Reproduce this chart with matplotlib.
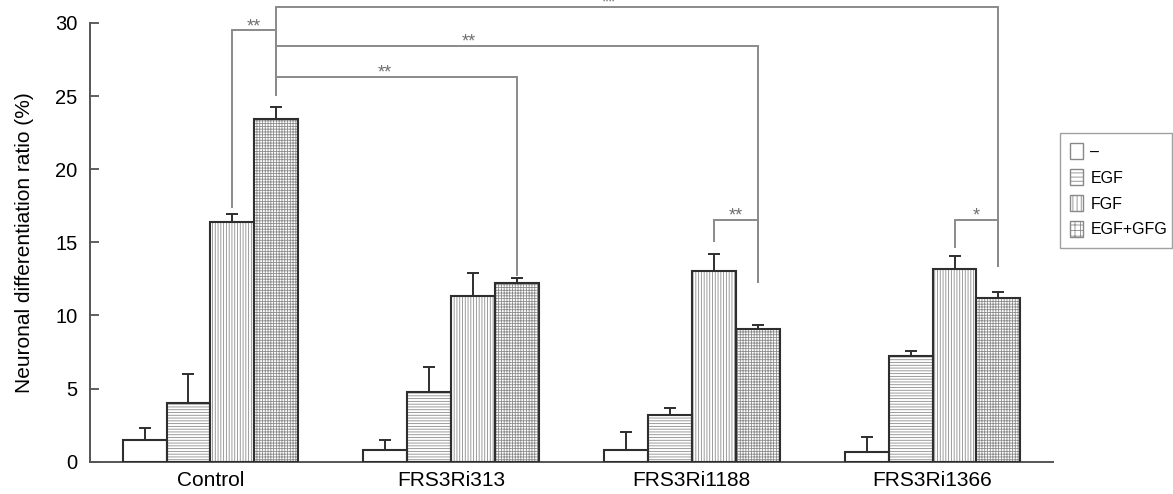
import matplotlib
matplotlib.use("Agg")
import matplotlib.pyplot as plt
from matplotlib.patches import Patch
import numpy as np

# ---------------- data ----------------
categories = ["Control", "FRS3Ri313", "FRS3Ri1188", "FRS3Ri1366"]
series_labels = ["\u2013", "EGF", "FGF", "EGF+GFG"]

vals_none = [1.5, 0.8, 0.8, 0.65]
vals_egf = [4.0, 4.75, 3.2, 7.2]
vals_fgf = [16.4, 11.3, 13.05, 13.2]
vals_both = [23.45, 12.2, 9.05, 11.2]

err_none = [0.8, 0.7, 1.2, 1.05]
err_egf = [2.0, 1.7, 0.45, 0.35]
err_fgf = [0.55, 1.6, 1.15, 0.9]
err_both = [0.8, 0.35, 0.3, 0.4]

yticks = [0, 5, 10, 15, 20, 25, 30]

# significance brackets:
# (groupA, seriesA, legA_bottom, groupB, seriesB, legB_bottom, height, label, label_frac)
brackets = [
    (0, 2, 17.4, 0, 3, 25.1, 29.5, "**", 0.5),
    (0, 3, 25.1, 3, 3, 13.4, 31.1, "**", 0.46),
    (0, 3, 25.1, 2, 3, 12.3, 28.45, "**", 0.40),
    (0, 3, 25.1, 1, 3, 12.8, 26.3, "**", 0.45),
    (2, 2, 15.1, 2, 3, 12.3, 16.55, "**", 0.5),
    (3, 2, 14.7, 3, 3, 13.4, 16.55, "*", 0.5),
]

# ---------------- style ----------------
plt.rcParams["font.family"] = ["Liberation Sans", "DejaVu Sans"]
plt.rcParams["hatch.linewidth"] = 0.6

values = [vals_none, vals_egf, vals_fgf, vals_both]
errors = [err_none, err_egf, err_fgf, err_both]
hatches = [None, "------", "||||||", "++++++"]
leg_hatches = [None, "----", "||||", "+++"]
hatch_color = "#8c8c8c"
edge_dark = "#2e2e2e"

fig = plt.figure(figsize=(11.73, 4.94), dpi=100)
ax = fig.add_axes([90 / 1173, 1 - 461.7 / 494, (1053 - 90) / 1173, (461.7 - 23) / 494])

x = np.arange(len(categories))
w = 0.182

def bar_x(g, s):
    return g + (s - 1.5) * w

for s in range(4):
    xs = x + (s - 1.5) * w
    # hatch layer (grey)
    ax.bar(xs, values[s], width=w, facecolor="white", edgecolor=hatch_color,
           hatch=hatches[s], linewidth=0, zorder=2)
    # outline layer (dark)
    ax.bar(xs, values[s], width=w, facecolor="none", edgecolor=edge_dark,
           linewidth=1.5, zorder=3)
    ax.errorbar(xs, values[s], yerr=[np.zeros(len(xs)), errors[s]], fmt="none",
                ecolor=edge_dark, elinewidth=1.4, capsize=4.5, capthick=1.4, zorder=4)

br_color = "#8a8a8a"
for (ga, sa, ya, gb, sb, yb, h, lab, frac) in brackets:
    xa = bar_x(ga, sa)
    xb = bar_x(gb, sb)
    ax.plot([xa, xa, xb, xb], [ya, h, h, yb], color=br_color, lw=1.4,
            clip_on=False, zorder=1, solid_joinstyle="miter")
    ax.text(xa + (xb - xa) * frac, h - 0.05, lab, ha="center", va="baseline",
            fontsize=13, color="#707070", clip_on=False)

ax.set_xlim(-0.5, 3.5)
ax.set_ylim(0, 30)
ax.set_yticks(yticks)
ax.set_xticks(x)
ax.set_xticklabels(categories)
ax.tick_params(axis="y", direction="in", length=6.5, width=1.2, labelsize=14.5,
               pad=9, color="#444444")
ax.tick_params(axis="x", length=0, labelsize=15, pad=7)
for sp in ["top", "right"]:
    ax.spines[sp].set_visible(False)
ax.spines["left"].set_bounds(0, 30)
for sp in ["left", "bottom"]:
    ax.spines[sp].set_linewidth(1.4)
    ax.spines[sp].set_color("#555555")

ax.set_ylabel("Neuronal differentiation ratio (%)", fontsize=15)
ax.yaxis.set_label_coords(-0.058, 0.5)

handles = [Patch(facecolor="white", edgecolor="#888888", hatch=leg_hatches[i],
                 linewidth=1.0, label=series_labels[i]) for i in range(4)]
leg = fig.legend(handles=handles, loc="upper left",
                 bbox_to_anchor=(1060 / 1173, 1 - 133 / 494, 112 / 1173, 0.0),
                 mode="expand", fontsize=11.5, frameon=True, fancybox=False,
                 handlelength=0.8, handleheight=1.15, labelspacing=0.6,
                 handletextpad=0.45, borderpad=0.65, borderaxespad=0)
leg.get_frame().set_edgecolor("#888888")
leg.get_frame().set_linewidth(1.0)

fig.savefig("out.png", dpi=100)
